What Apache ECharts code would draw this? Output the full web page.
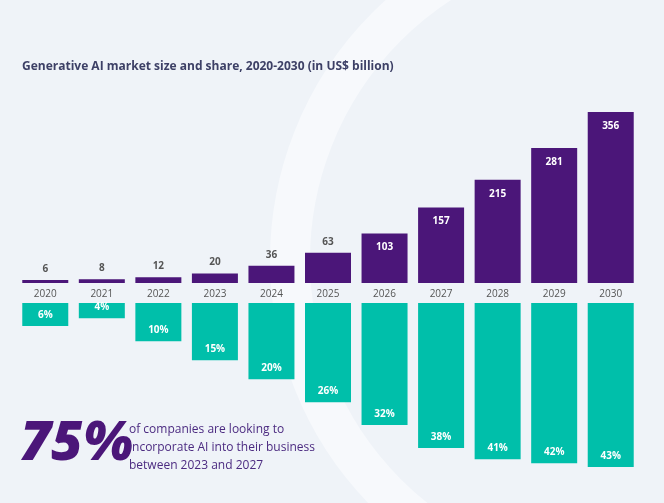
<!DOCTYPE html>
<html><head><meta charset="utf-8">
<script src="https://cdn.jsdelivr.net/npm/echarts@6/dist/echarts.min.js"></script>
<style>html,body{margin:0;padding:0;background:#eff3f8}#c{width:664px;height:503px}</style>
</head><body><div id="c"></div>
<script>
var years = ['2020','2021','2022','2023','2024','2025','2026','2027','2028','2029','2030'];
var marketSize = [6, 8, 12, 20, 36, 63, 103, 157, 215, 281, 356];
var sharePct = [6, 4, 10, 15, 20, 26, 32, 38, 41, 42, 43];

var purple = '#4b1679', teal = '#00bfaa';
var chart = echarts.init(document.getElementById('c'));

var sizeData = marketSize.map(function(v){
	var big = v >= 100;
	return {value: v, label: {position: big ? 'insideTop' : 'top', color: big ? '#fff' : '#555', distance: big ? 9 : 6}};
});

chart.setOption({
	backgroundColor: '#eff3f8',
	textStyle: {fontFamily: 'Open Sans'},
	graphic: [
		{type: 'circle', shape: {cx: 620, cy: 260, r: 330}, style: {fill: 'none', stroke: '#f7f9fc', lineWidth: 40}, silent: true, z: -10},
		{type: 'text', left: 22, top: 61, style: {text: 'Generative AI market size and share, 2020-2030 (in US$ billion)', fill: '#3d4066', font: 'bold 12px "Open Sans"'}},
		{type: 'text', left: 20, top: 418, style: {text: '75%', fill: purple, font: 'italic 900 54px "Open Sans"'}},
		{type: 'text', left: 129, top: 421, style: {text: 'of companies are looking to\nincorporate AI into their business\nbetween 2023 and 2027', fill: '#4b2a80', font: '12px "Open Sans"', lineHeight: 18}}
	],
	grid: [
		{left: 17, width: 622, top: 112, height: 171},
		{left: 17, width: 622, top: 303, height: 164}
	],
	xAxis: [
		{gridIndex: 0, type: 'category', data: years, axisLine: {show: false}, axisTick: {show: false},
			axisLabel: {color: '#555', fontSize: 10, margin: 6}},
		{gridIndex: 1, type: 'category', data: years, show: false}
	],
	yAxis: [
		{gridIndex: 0, min: 0, max: 356, show: false},
		{gridIndex: 1, min: 0, max: 43, inverse: true, show: false}
	],
	series: [
		{type: 'bar', xAxisIndex: 0, yAxisIndex: 0, data: sizeData, barWidth: 46,
			itemStyle: {color: purple},
			label: {show: true, fontSize: 10, fontWeight: 'bold'}},
		{type: 'bar', xAxisIndex: 1, yAxisIndex: 1, data: sharePct, barWidth: 46,
			itemStyle: {color: teal},
			label: {show: true, position: 'insideBottom', distance: 6, color: '#fff', fontSize: 10, fontWeight: 'bold',
				formatter: function(p){ return p.value + '%'; }}}
	]
});
</script></body></html>
